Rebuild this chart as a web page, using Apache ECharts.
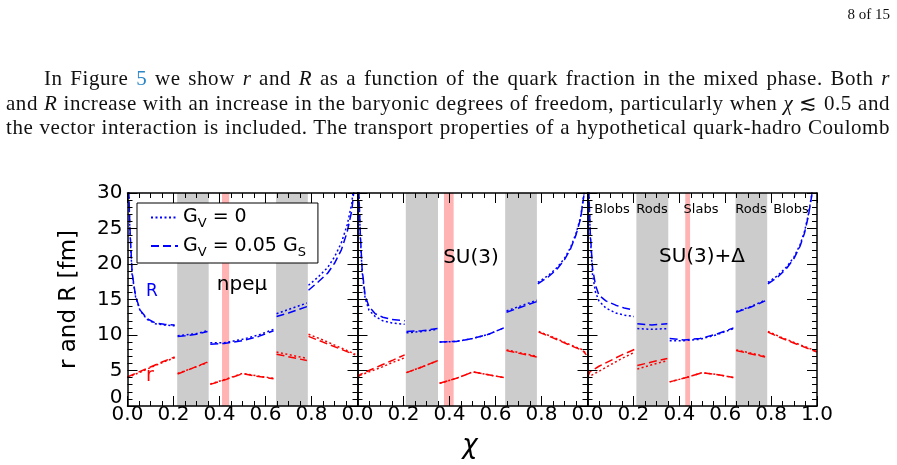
<!DOCTYPE html>
<html>
<head>
<meta charset="utf-8">
<script src="https://cdn.jsdelivr.net/npm/echarts@6/dist/echarts.min.js"></script>
<style>
    html, body { margin: 0; padding: 0; background: #fff; }
    #chart { position: absolute; left: 0; top: 0; width: 897px; height: 465px; }
    .pg { position: absolute; font-family: 'Liberation Serif', serif; color: #111; font-size: 21px; line-height: 24px;
          letter-spacing: 0.55px; text-align: justify; text-align-last: justify; }
    .lk { color: #2a86c8; }
</style>
</head>
<body>
<div id="chart"></div>
<div class="pg" style="left:820px;top:2px;width:70px;font-size:15px;letter-spacing:0;text-align:right;text-align-last:right;">8 of 15</div>
<div class="pg" style="left:44px;top:66px;width:846px;">In Figure <span class="lk">5</span> we show <i>r</i> and <i>R</i> as a function of the quark fraction in the mixed phase. Both <i>r</i></div>
<div class="pg" style="left:6px;top:91px;width:884px;">and <i>R</i> increase with an increase in the baryonic degrees of freedom, particularly when <i>χ</i> ≲ 0.5 and</div>
<div class="pg" style="left:6px;top:115px;width:884px;">the vector interaction is included. The transport properties of a hypothetical quark-hadro Coulomb</div>
<script>
// 刻度文字
const xTickLabels = ['0.0', '0.2', '0.4', '0.6', '0.8', '1.0'];
const yTickLabels = ['0', '5', '10', '15', '20', '25', '30'];

// 三个面板
const panelNames = ['npeμ', 'SU(3)', 'SU(3)+Δ'];
const phaseNames = ['Blobs', 'Rods', 'Slabs', 'Rods', 'Blobs'];
const grayBands = [[[0.216, 0.353], [0.646, 0.784]], [[0.210, 0.350], [0.642, 0.780]], [[0.213, 0.352], [0.645, 0.783]]];
const pinkBands = [[0.411, 0.442], [0.376, 0.418], [0.426, 0.447]];

// 图例
const legendNames = ['GV0', 'GV005'];
const legendText = {GV0: '{t|G}{s|V}{t| = 0}', GV005: '{t|G}{s|V}{t| = 0.05 G}{s|S}'};

// npeμ: R 和 r, 点线 (G_V=0) 与虚线 (G_V=0.05 G_S), 各相分段
const npeRdot = [
    [[0.004, 32], [0.01, 25], [0.02, 18.5], [0.035, 15.4], [0.055, 13.4], [0.085, 12.2], [0.12, 11.6], [0.16, 11.4], [0.205, 11.3]],
    [[0.218, 9.9], [0.25, 10.0], [0.3, 10.2], [0.348, 10.6]],
    [[0.36, 8.9], [0.42, 8.9], [0.5, 9.4], [0.57, 10.0], [0.635, 10.8]],
    [[0.648, 13.0], [0.7, 13.6], [0.78, 14.5]],
    [[0.787, 17.0], [0.83, 18.2], [0.87, 19.5], [0.9, 21.0], [0.93, 23.0], [0.955, 25.5], [0.975, 28.5], [0.99, 33]]
];
const npeRdash = [
    [[0.004, 32], [0.01, 25.5], [0.02, 18.8], [0.035, 15.5], [0.055, 13.5], [0.085, 12.3], [0.12, 11.7], [0.16, 11.5], [0.205, 11.4]],
    [[0.218, 9.8], [0.25, 9.9], [0.3, 10.1], [0.348, 10.5]],
    [[0.36, 8.7], [0.42, 8.8], [0.5, 9.2], [0.57, 9.8], [0.635, 10.6]],
    [[0.648, 12.6], [0.7, 13.1], [0.78, 14.0]],
    [[0.787, 16.3], [0.83, 17.5], [0.87, 18.7], [0.9, 20.1], [0.93, 22.0], [0.955, 24.5], [0.975, 27.5], [0.99, 32]]
];
const npeRsmallDot = [
    [[0.0, 4.0], [0.05, 4.7], [0.1, 5.4], [0.15, 6.1], [0.205, 6.8]],
    [[0.218, 4.6], [0.28, 5.3], [0.348, 6.1]],
    [[0.36, 3.1], [0.43, 3.8], [0.5, 4.6], [0.57, 4.2], [0.635, 3.9]],
    [[0.648, 7.6], [0.78, 6.7]],
    [[0.787, 10.1], [0.85, 9.3], [0.92, 8.3], [0.99, 7.3]]
];
const npeRsmallDash = [
    [[0.0, 4.1], [0.05, 4.8], [0.1, 5.5], [0.15, 6.2], [0.205, 6.9]],
    [[0.218, 4.5], [0.28, 5.3], [0.348, 6.2]],
    [[0.36, 3.05], [0.43, 3.75], [0.5, 4.55], [0.57, 4.15], [0.635, 3.85]],
    [[0.648, 7.3], [0.78, 6.4]],
    [[0.787, 9.8], [0.85, 9.0], [0.92, 8.1], [0.99, 7.2]]
];

// SU(3)
const su3Rdot = [
    [[0.004, 32], [0.012, 24], [0.02, 19], [0.033, 15.2], [0.05, 13.5], [0.077, 12.6], [0.11, 12.0], [0.15, 11.7], [0.205, 11.5]],
    [[0.213, 10.3], [0.28, 10.5], [0.348, 10.8]],
    [[0.357, 9.0], [0.43, 9.1], [0.5, 9.5], [0.57, 10.1], [0.636, 11.0]],
    [[0.648, 13.4], [0.71, 14.1], [0.779, 14.9]],
    [[0.784, 17.4], [0.83, 18.4], [0.868, 19.5], [0.9, 20.8], [0.926, 22.3], [0.95, 24.3], [0.97, 26.6], [0.985, 30], [0.995, 34]]
];
const su3Rdash = [
    [[0.004, 32], [0.012, 24.5], [0.02, 19.3], [0.033, 15.6], [0.05, 14.0], [0.077, 13.0], [0.11, 12.5], [0.15, 12.2], [0.205, 12.0]],
    [[0.213, 10.5], [0.28, 10.6], [0.348, 10.9]],
    [[0.357, 9.0], [0.43, 9.1], [0.5, 9.5], [0.57, 10.1], [0.636, 11.0]],
    [[0.648, 13.2], [0.71, 13.9], [0.779, 14.7]],
    [[0.784, 17.2], [0.83, 18.2], [0.868, 19.3], [0.9, 20.6], [0.926, 22.1], [0.95, 24.1], [0.97, 26.4], [0.985, 29.8], [0.995, 34]]
];
const su3RsmallDot = [
    [[0.0, 3.8], [0.01, 4.3], [0.05, 4.8], [0.1, 5.4], [0.15, 6.1], [0.205, 6.8]],
    [[0.213, 4.7], [0.28, 5.5], [0.35, 6.4]],
    [[0.357, 3.2], [0.43, 3.9], [0.502, 4.8], [0.57, 4.4], [0.636, 4.0]],
    [[0.648, 7.9], [0.779, 7.0]],
    [[0.788, 10.5], [0.85, 9.7], [0.92, 8.7], [0.98, 7.9], [0.995, 7.3]]
];
const su3RsmallDash = [
    [[0.0, 3.8], [0.01, 4.4], [0.05, 5.0], [0.1, 5.7], [0.15, 6.4], [0.205, 7.2]],
    [[0.213, 4.7], [0.28, 5.5], [0.35, 6.4]],
    [[0.357, 3.2], [0.43, 3.9], [0.502, 4.8], [0.57, 4.4], [0.636, 4.0]],
    [[0.648, 7.8], [0.779, 6.9]],
    [[0.788, 10.4], [0.85, 9.6], [0.92, 8.6], [0.98, 7.8], [0.995, 7.2]]
];

// SU(3)+Δ
const su3dRdot = [
    [[0.004, 32], [0.012, 24], [0.022, 18.5], [0.035, 16.0], [0.05, 14.8], [0.08, 13.8], [0.123, 13.1], [0.16, 12.8], [0.202, 12.6]],
    [[0.217, 10.9], [0.28, 10.8], [0.348, 10.9]],
    [[0.358, 9.2], [0.42, 9.2], [0.49, 9.4], [0.56, 10.0], [0.636, 10.9]],
    [[0.648, 13.3], [0.71, 14.0], [0.774, 14.9]],
    [[0.786, 17.4], [0.83, 18.4], [0.868, 19.6], [0.9, 21.0], [0.926, 22.7], [0.945, 24.5], [0.962, 26.9], [0.977, 29.8], [0.99, 34]]
];
const su3dRdash = [
    [[0.004, 32], [0.012, 24.5], [0.022, 19.4], [0.035, 17.0], [0.05, 15.6], [0.08, 14.8], [0.123, 14.2], [0.16, 13.8], [0.202, 13.5]],
    [[0.217, 11.6], [0.28, 11.4], [0.348, 11.6]],
    [[0.358, 9.5], [0.42, 9.3], [0.49, 9.5], [0.56, 10.1], [0.636, 11.0]],
    [[0.648, 13.2], [0.71, 13.9], [0.774, 14.8]],
    [[0.786, 17.2], [0.83, 18.2], [0.868, 19.4], [0.9, 20.8], [0.926, 22.5], [0.945, 24.3], [0.962, 26.7], [0.977, 29.6], [0.99, 34]]
];
const su3dRsmallDot = [
    [[0.0, 4.0], [0.01, 4.2], [0.05, 4.9], [0.1, 5.8], [0.15, 6.7], [0.207, 7.6]],
    [[0.217, 5.2], [0.28, 5.8], [0.348, 6.4]],
    [[0.358, 3.4], [0.43, 4.0], [0.5, 4.7], [0.57, 4.4], [0.636, 4.0]],
    [[0.648, 7.9], [0.774, 7.0]],
    [[0.786, 10.5], [0.85, 9.6], [0.92, 8.7], [1.0, 7.7]]
];
const su3dRsmallDash = [
    [[0.0, 4.0], [0.01, 4.8], [0.05, 5.6], [0.1, 6.4], [0.15, 7.2], [0.207, 8.0]],
    [[0.217, 5.7], [0.28, 6.2], [0.348, 6.7]],
    [[0.358, 3.4], [0.43, 4.0], [0.5, 4.7], [0.57, 4.4], [0.636, 4.0]],
    [[0.648, 7.8], [0.774, 6.9]],
    [[0.786, 10.4], [0.85, 9.5], [0.92, 8.6], [1.0, 7.6]]
];

const panelData = [
    {R: [npeRdot, npeRdash], r: [npeRsmallDot, npeRsmallDash]},
    {R: [su3Rdot, su3Rdash], r: [su3RsmallDot, su3RsmallDash]},
    {R: [su3dRdot, su3dRdash], r: [su3dRsmallDot, su3dRsmallDash]}
];

let chart = echarts.init(document.getElementById('chart'));
let font = 'DejaVu Sans';
let grids = [
    {left: 127.5, top: 193, width: 230, height: 213},
    {left: 357.5, top: 193, width: 230, height: 213},
    {left: 587.5, top: 193, width: 229.5, height: 213}
];

// 分段之间插入空值断开
let joinSegs = segs => {
    let out = [];
    segs.forEach((s, i) => {
        if (i > 0) out.push('-');
        s.forEach(p => out.push(p));
    });
    return out;
};

let tickStyle = {
    axisTick: {show: true, inside: true, length: 10, lineStyle: {color: '#000', width: 1}},
    minorTick: {show: true, length: 5, lineStyle: {color: '#000', width: 1}},
    splitLine: {show: false},
    minorSplitLine: {show: false},
    axisLine: {show: true, onZero: false, lineStyle: {color: '#000', width: 1.5}},
    z: 10
};

let xAxes = [], yAxes = [];
grids.forEach((g, i) => {
    ['bottom', 'top'].forEach(pos => {
        xAxes.push(Object.assign({}, tickStyle, {
            gridIndex: i, type: 'value', min: 0, max: 1, interval: 0.2, position: pos,
            minorTick: Object.assign({}, tickStyle.minorTick, {splitNumber: 4}),
            axisLabel: {
                show: pos === 'bottom', fontSize: 20, color: '#000', fontFamily: font, margin: -1,
                formatter: v => {
                    let k = Math.round(v / 0.2);
                    return (k === 5 && i < 2) ? '' : xTickLabels[k];
                }
            }
        }));
    });
    ['left', 'right'].forEach(pos => {
        let first = i === 0 && pos === 'left';
        yAxes.push(Object.assign({}, tickStyle, {
            gridIndex: i, type: 'value', min: 0, max: 30, interval: 5, position: pos,
            minorTick: Object.assign({}, tickStyle.minorTick, {splitNumber: 5}),
            name: first ? 'r and R [fm]' : '',
            nameLocation: 'middle', nameGap: 47, nameRotate: 90,
            nameTextStyle: {fontSize: 23, color: '#000', fontFamily: font},
            axisLabel: {
                show: first, fontSize: 20, color: '#000', fontFamily: font, margin: 5,
                formatter: v => {
                    let k = Math.round(v / 5);
                    return k === 0 ? '{z|' + yTickLabels[0] + '}' : yTickLabels[k];
                },
                rich: {z: {fontSize: 20, color: '#000', fontFamily: font, padding: [0, 0, 16, 0]}}
            }
        }));
    });
});

let series = [];
let mkLine = (name, data, color, dash, gi) => ({
    name: name, type: 'line', xAxisIndex: gi * 2, yAxisIndex: gi * 2,
    data: joinSegs(data), symbol: 'none', z: 3, silent: true,
    lineStyle: {color: color, width: 1.5, type: dash ? [8, 4] : [2, 2.5]},
    itemStyle: {color: color}
});

// 先画 R (蓝色), 图例取第一个同名序列的样式
panelData.forEach((p, gi) => {
    series.push(mkLine(legendNames[0], p.R[0], '#0000ff', false, gi));
    series.push(mkLine(legendNames[1], p.R[1], '#0000ff', true, gi));
});
panelData.forEach((p, gi) => {
    series.push(mkLine(legendNames[0], p.r[0], '#ff0000', false, gi));
    series.push(mkLine(legendNames[1], p.r[1], '#ff0000', true, gi));
});

// 相区阴影
grids.forEach((g, gi) => {
    let areas = grayBands[gi].map(b => [{xAxis: b[0], itemStyle: {color: '#cccccc'}}, {xAxis: b[1]}]);
    areas.push([{xAxis: pinkBands[gi][0], itemStyle: {color: '#ffb3b3'}}, {xAxis: pinkBands[gi][1]}]);
    series.push({
        type: 'line', name: 'band' + gi, xAxisIndex: gi * 2, yAxisIndex: gi * 2, data: [], z: 1, silent: true,
        markArea: {silent: true, itemStyle: {opacity: 1}, data: areas}
    });
});

let txt = (text, x, y, size, color, extra) => ({
    type: 'text', x: x, y: y, z: 20,
    style: Object.assign({text: text, fill: color || '#000', font: size + 'px "DejaVu Sans"', align: 'center', verticalAlign: 'middle'}, extra || {})
});

let phaseX = [612, 652, 701, 751, 791];
let graphics = [
    txt('R', 152, 292, 17, '#0000ff'),
    txt('r', 150, 376, 19, '#ff0000'),
    txt(panelNames[0], 242, 285, 20),
    txt(panelNames[1], 471, 258, 20),
    txt(panelNames[2], 702, 257, 20),
    txt('χ', 470, 446, 26, '#000', {font: 'italic 26px "DejaVu Sans"'})
];
phaseNames.forEach((n, i) => graphics.push(txt(n, phaseX[i], 210, 13)));

chart.setOption({
    animation: false,
    backgroundColor: 'transparent',
    grid: grids,
    xAxis: xAxes,
    yAxis: yAxes,
    legend: {
        data: legendNames, orient: 'vertical', left: 137, top: 203,
        backgroundColor: '#fff', borderColor: '#000', borderWidth: 1, borderRadius: 0,
        padding: [5, 12, 4, 13], itemWidth: 27, itemHeight: 18, itemGap: 6,
        itemStyle: {color: 'rgba(0,0,0,0)', borderColor: 'rgba(0,0,0,0)', borderWidth: 0},
        formatter: n => legendText[n],
        textStyle: {
            fontSize: 19, color: '#000', fontFamily: font,
            rich: {
                t: {fontSize: 19, color: '#000', fontFamily: font, lineHeight: 26},
                s: {fontSize: 13, color: '#000', fontFamily: font, verticalAlign: 'bottom', lineHeight: 13}
            }
        },
        z: 30
    },
    graphic: graphics,
    series: series
});
</script>
</body>
</html>
